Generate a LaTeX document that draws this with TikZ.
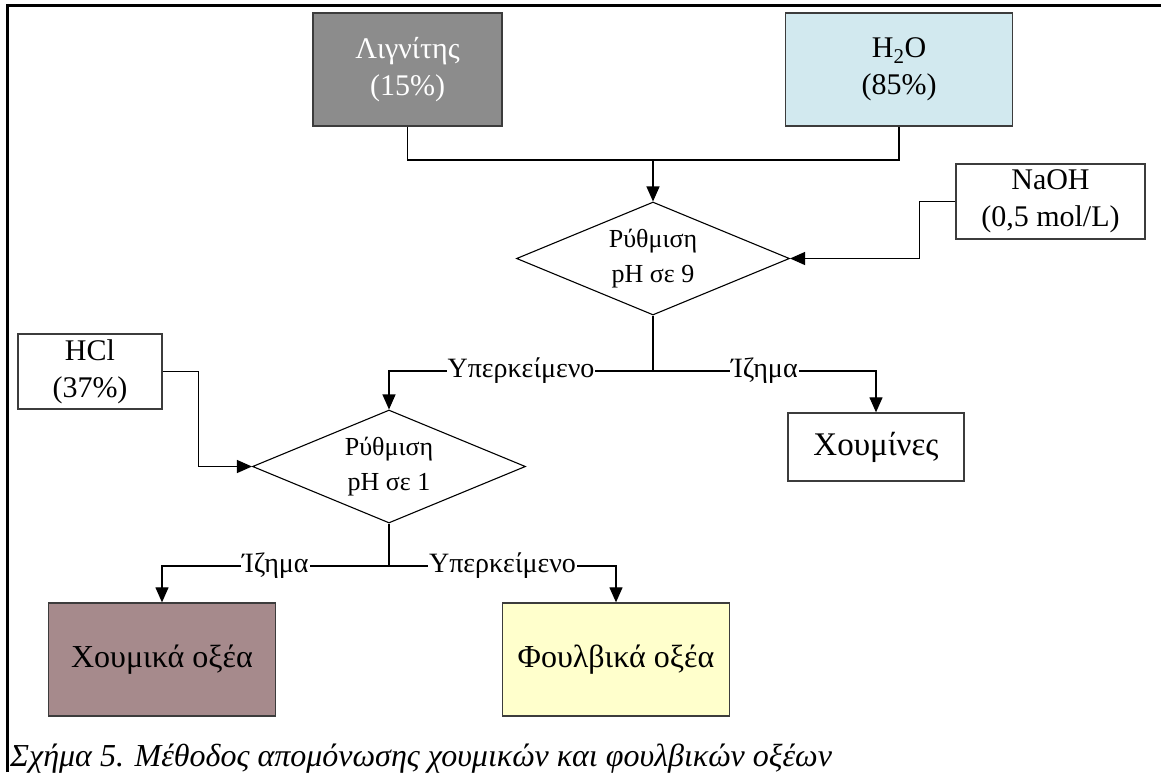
\documentclass[tikz,border=0pt]{standalone}
\usepackage{fontspec}
\setmainfont{Liberation Serif}
\usetikzlibrary{arrows.meta,shapes.geometric}

\definecolor{lignitefill}{RGB}{140,140,140}
\definecolor{waterfill}{RGB}{210,233,239}
\definecolor{humicfill}{RGB}{166,138,140}
\definecolor{fulvicfill}{RGB}{255,255,204}
\definecolor{edgegray}{RGB}{60,60,60}

\begin{document}
\begin{tikzpicture}[x=1pt,y=-1pt,
  box/.style={draw=edgegray, line width=1.3pt, inner sep=0pt, align=center,
    font=\fontsize{30}{37}\selectfont},
  decision/.style={diamond, draw=black, line width=1.1pt, inner sep=0pt,
    minimum width=273pt, minimum height=113pt, shape aspect=2.42,
    align=center, font=\fontsize{26}{35}\selectfont},
  link/.style={draw=black, line width=1.2pt},
  flow/.style={link, -{Triangle[width=13pt,length=15pt]}},
  branch/.style={fill=white, inner sep=1pt, font=\fontsize{28}{30}\selectfont}]
\useasboundingbox (0,0) rectangle (1161,772);
% frame
\draw[line width=3pt] (7,772) -- (7,5) -- (1161,5);

% inputs
\node[box, fill=lignitefill, text=white, minimum width=189pt, minimum height=113pt]
  (lignite) at (407.5,69.5) {Λιγνίτης\\(15\%)};
\node[box, fill=waterfill, minimum width=227pt, minimum height=113pt]
  (water) at (899,69.5) {H\textsubscript{2}O\\(85\%)};
\node[box, minimum width=189pt, minimum height=75pt]
  (naoh) at (1050.5,201.5) {NaOH\\(0,5 mol/L)};
\node[box, minimum width=144pt, minimum height=75pt]
  (hcl) at (90,371.5) {HCl\\(37\%)};

% steps
\node[decision] (ph9) at (653,258.5) {Ρύθμιση\\pH σε 9};
\node[decision] (ph1) at (389,466.5) {Ρύθμιση\\pH σε 1};

% products
\node[box, minimum width=176pt, minimum height=68pt, font=\fontsize{33}{38}\selectfont]
  (humins) at (876,447) {Χουμίνες};
\node[box, fill=humicfill, minimum width=227pt, minimum height=113pt, font=\fontsize{32}{38}\selectfont]
  (humic) at (162,659.5) {Χουμικά οξέα};
\node[box, fill=fulvicfill, minimum width=227pt, minimum height=113pt, font=\fontsize{32}{38}\selectfont]
  (fulvic) at (616,659.5) {Φουλβικά οξέα};

\coordinate (mix) at (653,160);
\coordinate (split9) at (653,371);
\coordinate (split1) at (389,566);

% connectors
\draw[link] (lignite.south) |- (mix) -| (water.south);
\draw[flow] (mix) -- (ph9.north);
\draw[flow] (naoh.west) -- ++(-36,0) |- (ph9.east);
\draw[link] (ph9.south) -- (split9);
\draw[flow] (split9) -| node[branch, pos=0.25] {Υπερκείμενο} (ph1.north);
\draw[flow] (split9) -| node[branch, pos=0.25] {Ίζημα} (humins.north);
\draw[flow] (hcl.east) -- ++(36,0) |- (ph1.west);
\draw[link] (ph1.south) -- (split1);
\draw[flow] (split1) -| node[branch, pos=0.25] {Ίζημα} (humic.north);
\draw[flow] (split1) -| node[branch, pos=0.25] {Υπερκείμενο} (fulvic.north);

\node[anchor=base west, inner sep=0pt, font=\fontsize{32}{38}\selectfont\itshape]
  (caption) at (10,766) {Σχήμα 5. Μέθοδος απομόνωσης χουμικών και φουλβικών οξέων};
\end{tikzpicture}
\end{document}
